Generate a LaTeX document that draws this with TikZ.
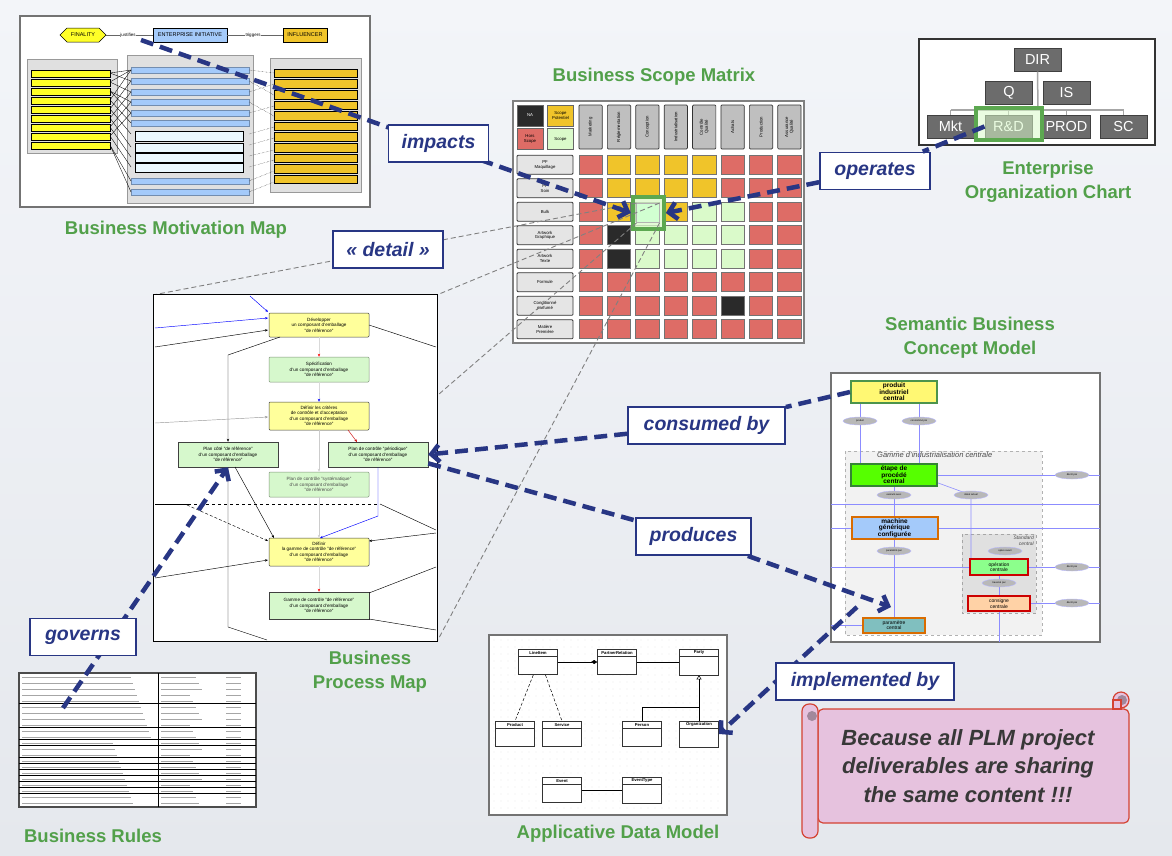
\documentclass[tikz,border=0pt]{standalone}
\usepackage{fontspec}
\setmainfont{Liberation Sans}
\usepackage{xcolor}
\usepackage{tikz}
\usetikzlibrary{arrows.meta,shapes.geometric,shapes.multipart}

\definecolor{bgtop}{RGB}{243,245,249}
\definecolor{bgbot}{RGB}{229,232,237}
\definecolor{lblgreen}{RGB}{82,160,74}
\definecolor{navy}{RGB}{40,54,132}
\definecolor{mR}{RGB}{222,108,102}
\definecolor{mO}{RGB}{240,196,42}
\definecolor{mG}{RGB}{218,250,202}
\definecolor{mB}{RGB}{42,42,42}
\definecolor{hlgreen}{RGB}{92,168,80}
\definecolor{orgfill}{RGB}{108,108,108}
\definecolor{scrollfill}{RGB}{230,194,222}
\definecolor{scrolldraw}{RGB}{212,66,50}
\definecolor{bmyellow}{RGB}{255,255,40}
\definecolor{bmblue}{RGB}{164,202,250}
\definecolor{pyellow}{RGB}{255,255,155}
\definecolor{pgreen}{RGB}{214,248,204}
\definecolor{sblue}{RGB}{140,140,255}

\begin{document}
\begin{tikzpicture}[x=1pt, y=-1pt, >={Stealth[length=3pt,width=2.4pt]},
    thumb/.style={draw=black!55, line width=2, fill=white},
    title/.style={text=lblgreen, font=\bfseries\fontsize{18.5}{24}\selectfont, align=center},
    tag/.style={draw=navy, line width=1.8, fill=white, text=navy, minimum height=37, inner sep=0,
        font=\bfseries\itshape\fontsize{19.5}{22}\selectfont},
    link/.style={draw=navy, line width=4.5, dash pattern=on 13pt off 7pt},
    tip/.style={-{Straight Barb[length=8pt,width=17pt]}},
    zoomline/.style={draw=black!50, line width=0.9, dash pattern=on 5pt off 3pt},
    tiny/.style={inner sep=0.5, font=\fontsize{4.5}{5}\selectfont},
    legend/.style={draw=black!60, line width=0.6, minimum width=26, minimum height=21, inner sep=0,
        align=center, font=\fontsize{4.3}{4.8}\selectfont},
    colhead/.style={draw=black!80, line width=0.7, fill=black!25, rounded corners=1, rotate=90,
        minimum width=44, minimum height=23.3, inner sep=0, align=center, font=\fontsize{4.3}{4.8}\selectfont},
    rowhead/.style={draw=black!80, line width=0.8, fill=black!10, rounded corners=1,
        minimum width=56, minimum height=19, inner sep=0, align=center, font=\fontsize{4.3}{4.8}\selectfont},
    orgbox/.style={draw=black!75, line width=1, fill=orgfill, text=white, minimum width=47,
        minimum height=23, inner sep=0, font=\fontsize{14.5}{15}\selectfont},
    orgline/.style={draw=black!35, line width=1.5},
    pbox/.style={draw=black!75, line width=0.5, rounded corners=1, minimum width=100, minimum height=25,
        inner sep=0.5, align=center, font=\fontsize{4.6}{5.4}\selectfont},
    sbox/.style={line width=2, minimum width=86, minimum height=22, inner sep=0, align=center,
        font=\bfseries\fontsize{6.5}{6.5}\selectfont},
    ell/.style={ellipse, draw=sblue!60, fill=black!28, minimum width=34, minimum height=8, inner sep=0,
        font=\fontsize{2.5}{2.5}\selectfont},
    sline/.style={draw=sblue, line width=0.6},
    uml/.style={rectangle split, rectangle split parts=2, rectangle split empty part height=15pt,
        draw=black!80, line width=0.6, fill=white, minimum width=39, inner sep=1.5,
        font=\bfseries\fontsize{4.2}{4.6}\selectfont},
    scroll/.style={draw=scrolldraw, line width=1.2, fill=scrollfill}]

\shade[top color=bgtop, bottom color=bgbot] (0,0) rectangle (1172,855);
\useasboundingbox (0,0) rectangle (1172,855);

% business motivation map
\draw[thumb] (20,16) rectangle (370,207);
\draw[fill=bmyellow, line width=0.5] (60,35) -- (67,28) -- (99,28) -- (106,35) -- (99,42) -- (67,42) -- cycle;
\node[font=\fontsize{5.5}{6}\selectfont, minimum width=46] (fin) at (83,35) {FINALITY};
\node[tiny] (jus) at (128,35) {justifies};
\node[draw, fill=bmblue, minimum width=74, minimum height=14, inner sep=0, font=\fontsize{5.5}{6}\selectfont] (ei) at (190,35) {ENTERPRISE INITIATIVE};
\node[tiny] (trg) at (253,35) {triggers};
\node[draw, fill=mO, minimum width=44, minimum height=14, inner sep=0, font=\fontsize{5.5}{6}\selectfont] (inf) at (305,35) {INFLUENCER};
\draw[black!60, line width=0.4] (fin.east) -- (jus) -- (ei);
\draw[black!60, line width=0.4] (ei) -- (trg) -- (inf);
\draw[draw=black!40, fill=black!12] (27,59) rectangle (117,153);
\draw[draw=black!40, fill=black!12] (127,55) rectangle (253,203);
\draw[draw=black!40, fill=black!12] (270,58) rectangle (361,192);
\foreach \y in {70,79,...,142}
    \draw[fill=bmyellow, line width=0.4] (31,\y) rectangle (110,\y+7);
\foreach \y in {67,78,89,99,110,120,178,189}
    \draw[fill=bmblue, draw=bmblue!70!black, line width=0.3] (131,\y) rectangle (249,\y+6);
\foreach \y/\h in {131/10,143/9,153/9,163/9}
    \draw[fill=cyan!8, line width=0.4] (135,\y) rectangle (243,\y+\h);
\foreach \i in {0,...,10}
    \draw[fill=mO, line width=0.4] (274,{69+10.6*\i}) rectangle (357,{77.5+10.6*\i});
\foreach \a/\b in {73/70,73/81,82/92,82/70,91/102,91/113,100/70,100/123,109/81,109/134,118/92,118/147,127/157,127/102,136/167,136/113,145/181,145/192}
    \draw[line width=0.35] (110,\a) -- (131,\b);
\foreach \a/\b in {70/73,81/95,92/84,102/116,113/106,134/127,145/138,156/150,167/160,181/171,192/182}
    \draw[densely dotted, line width=0.35] (249,\a) -- (274,\b);
\node[title] (bmmlbl) at (176,230) {Business Motivation Map};

% business scope matrix
\node[title] (bsmlbl) at (654,77) {Business Scope Matrix};
\draw[thumb, draw=black!50] (513,101) rectangle (804,343);
\node[legend, fill=mB, text=white] (na) at (530,115.5) {NA};
\node[legend, fill=mO] (sp) at (560.5,115.5) {Scope\\Potentiel};
\node[legend, fill=mR] (hs) at (530,139) {Hors\\Scope};
\node[legend, fill=mG] (sc) at (560.5,139) {Scope};
\foreach \c [count=\i from 0] in {Marketing,Réglementation,Conception,Industrialisation,{Contrôle\\Qualité},Achats,Production,{Assurance\\Qualité}}
    \node[colhead] at (590.6+28.4*\i,127) {\c};
\foreach \r [count=\j from 0] in {{PF\\Maquillage},{PF\\Soin},Bulk,{Artwork\\Graphique},{Artwork\\Texte},Formule,{Conditionné\\parfumé},{Matière\\Première}}
    \node[rowhead] at (545,164.8+23.5*\j) {\r};
\foreach \row [count=\j from 0] in {{R,O,O,O,O,R,R,R},{R,O,O,O,O,R,R,R},{R,O,G,O,G,G,R,R},{R,B,G,G,G,G,R,R},{R,B,G,G,G,G,R,R},{R,R,R,R,R,R,R,R},{R,R,R,R,R,B,R,R},{R,R,R,R,R,R,R,R}}
    \foreach \c [count=\i from 0] in \row
        \draw[draw=black!55, line width=0.7, fill=m\c] (579+28.4*\i,155.3+23.5*\j) rectangle ++(23.3,19);
\node[draw=hlgreen, line width=4, fill=mG, fill opacity=0.75, minimum width=31, minimum height=32, inner sep=0] (hl) at (648.3,213) {};
\node[draw=black!30, line width=0.5, fill=green!18!white, minimum width=22.6, minimum height=19.4, inner sep=0] (hcell) at (648,213) {};

% zoom of the cell
\node[minimum width=283, minimum height=346, inner sep=0] (bpm) at (295.5,468) {};
\draw[zoomline] (hcell.north west) -- (bpm.north west);
\draw[zoomline] (hcell.north east) -- (bpm.north east);
\draw[zoomline] (hcell.south west) -- (bpm.south west);
\draw[zoomline] (hcell.south east) -- (bpm.south east);

% business process map
\draw[line width=1.2, fill=white] (bpm.north west) rectangle (bpm.south east);
\node[pbox, fill=pyellow, minimum height=24] (pa) at (319,325) {Développer\\un composant d'emballage\\"de référence"};
\node[pbox, fill=pgreen, draw=pgreen!60!black] (pb) at (319,369.5) {Spécification\\d'un composant d'emballage\\"de référence"};
\node[pbox, fill=pyellow, minimum height=28] (pc) at (319,416) {Définir les critères\\de contrôle et d'acceptation\\d'un composant d'emballage\\"de référence"};
\node[pbox, fill=pgreen, rounded corners=0] (pd) at (228,454.5) {Plan côté "de référence"\\d'un composant d'emballage\\"de référence"};
\node[pbox, fill=pgreen, rounded corners=0] (pe) at (378,454.5) {Plan de contrôle "périodique"\\d'un composant d'emballage\\"de référence"};
\node[pbox, fill=pgreen, draw=pgreen!60!black, text=black!70] (pf) at (319,484.5) {Plan de contrôle "systématique"\\d'un composant d'emballage\\"de référence"};
\node[pbox, fill=pyellow, minimum height=28] (pg) at (319,552) {Définir\\la gamme de contrôle "de référence"\\d'un composant d'emballage\\"de référence"};
\node[pbox, fill=pgreen, minimum height=27, rounded corners=0] (ph) at (319,605.5) {Gamme de contrôle "de référence"\\d'un composant d'emballage\\"de référence"};
\draw[blue, line width=0.45, ->] (250,296) -- (268,312);
\draw[blue, line width=0.45, ->] (155,328) -- (268,318);
\draw[line width=0.45, ->] (155,347) -- (268,330);
\draw[line width=0.45, ->] (280,337) -- (228,355) -- (pd.north);
\draw[black!40, line width=0.45, ->] (155,423) -- (268,417);
\draw[black!15, line width=0.45, -{Stealth[length=3pt,width=2.4pt,red]}] (pa.south) -- (pb.north);
\draw[black!15, line width=0.45, -{Stealth[length=3pt,width=2.4pt,blue]}] (pb.south) -- (pc.north);
\draw[red!80!black, line width=0.45, ->] (348,430) -- (357,442);
\draw[black!20, line width=0.45, ->] (pc.south) -- (pf.north);
\draw[blue, line width=0.45, ->] (pe.south) -- (378,516) -- (320,538);
\draw[line width=0.45, ->] (235,467) -- (274,538);
\draw[line width=0.7] (155,504) -- (188,504);
\draw[line width=0.6, dashed] (188,504) -- (380,504);
\draw[line width=0.45] (380,504) -- (436,530);
\draw[line width=0.45, densely dashed, ->] (187,505) -- (268,541);
\draw[line width=0.45, ->] (155,578) -- (268,560);
\draw[line width=0.45, ->] (436,533) -- (369,541);
\draw[line width=0.45] (369,325) -- (436,347);
\draw[line width=0.45] (369,593) -- (436,567);
\draw[line width=0.45] (369,619) -- (436,630);
\draw[line width=0.45] (228,467) -- (228,627) -- (267,640);
\draw[black!20, line width=0.45, ->] (pf.south) -- (pg.north);
\draw[black!15, line width=0.45, -{Stealth[length=3pt,width=2.4pt,red]}] (pg.south) -- (ph.north);
\node[title] (bpmlbl) at (370,672) {Business\\Process Map};

% enterprise organization chart
\draw[line width=1.2, draw=black!80, fill=white] (919,39) rectangle (1155,145);
\coordinate (bus) at (1038,110);
\node[orgbox] (dir) at (1037.5,59.5) {DIR};
\node[orgbox] (q) at (1009,92.5) {Q};
\node[orgbox] (is) at (1066.5,92.5) {IS};
\node[orgbox] (mkt) at (950.5,126.5) {Mkt};
\node[orgbox] (rd) at (1008.5,126.5) {R\&D};
\node[orgbox] (prod) at (1066.5,126.5) {PROD};
\node[orgbox] (sc) at (1123.5,126.5) {SC};
\draw[orgline] (dir.south) -- (bus);
\draw[orgline] (mkt.north |- bus) -- (sc.north |- bus);
\foreach \n in {mkt,rd,prod,sc}
    \draw[orgline] (\n.north |- bus) -- (\n.north);
\node[draw=hlgreen, line width=4, fill=mG, fill opacity=0.55, minimum width=66, minimum height=32, inner sep=0] (rdhl) at (1009,124) {};
\node[title] (eoclbl) at (1048,182) {Enterprise\\Organization Chart};

% semantic business concept model
\node[title] (sbclbl) at (970,338) {Semantic Business\\Concept Model};
\draw[thumb] (831,373) rectangle (1100,642);
\draw[draw=black!30, dashed, fill=black!5] (845,451) rectangle (1042,635);
\node[anchor=west, inner sep=0, font=\itshape\fontsize{7.5}{8}\selectfont, text=black!70] (gam) at (877,455) {Gamme d'industrialisation centrale};
\draw[draw=black!35, dashed, fill=black!12] (962,534) rectangle (1036,613);
\node[anchor=north east, inner sep=1, align=right, font=\itshape\fontsize{5}{5.5}\selectfont, text=black!70] (std) at (1035,535) {Standard\\central};
\draw[sline] (831,504) -- (1100,504);
\draw[sline] (831,528) -- (1100,528);
\draw[sline] (831,567) -- (1100,567);
\draw[sline] (1030,603) -- (1100,603);
\draw[sline] (937,475) -- (1100,475);
\draw[sline] (831,625) -- (863,625);
\draw[sline] (860,403) -- (860,464);
\draw[sline] (919,403) -- (919,464);
\draw[sline] (894,486) -- (894,517);
\draw[sline] (930,480) -- (971,495) -- (971,559);
\draw[sline] (894,539) -- (894,617);
\draw[sline] (999,575) -- (999,596);
\draw[sline] (999,611) -- (999,642);
\node[sbox, draw=green!40!black!70, fill=yellow!55] (pic) at (894,392) {produit\\industriel\\central};
\node[sbox, draw=green!40!black!80, fill=green!55!lime] (epc) at (894,475) {étape de\\procédé\\central};
\node[sbox, draw=orange!85!black, fill=bmblue] (mgc) at (894.5,528) {machine\\générique\\configurée};
\node[sbox, draw=red!80!black, fill=green!45!white, minimum width=58, minimum height=16, font=\fontsize{5}{5.5}\selectfont] (opc) at (999,567) {opération\\centrale};
\node[sbox, draw=red!80!black, fill=orange!35!white, minimum width=62, minimum height=15, font=\fontsize{5}{5.5}\selectfont] (csc) at (999,603.5) {consigne\\centrale};
\node[sbox, draw=orange!85!black, fill=teal!50!white, minimum width=62, minimum height=15, font=\fontsize{5}{5.5}\selectfont] (pmc) at (894,625) {paramètre\\central};
\node[ell] (e1) at (860,421) {produit};
\node[ell] (e2) at (919,421) {consommé par};
\node[ell] (e3) at (894,495) {exécuté avec};
\node[ell] (e4) at (971,495) {statut actuel};
\node[ell] (e5) at (1072,475) {décrit par};
\node[ell] (e6) at (894,551) {paramétré par};
\node[ell] (e7) at (1005,551) {opère avant};
\node[ell] (e8) at (999,583) {traversé par};
\node[ell] (e9) at (1072,567) {décrit par};
\node[ell] (e10) at (1072,603) {décrit par};

% applicative data model
\draw[thumb] (489,635) rectangle (727,815);
\foreach \x in {494,501,...,722}
    \foreach \y in {640,647,...,810}
        \fill[black!22] (\x,\y) circle (0.45);
\node[uml] (li) at (538,662) {LineItem\nodepart{two}};
\node[uml] (prt) at (617,662) {PartnerRelation\nodepart{two}};
\node[uml] (party) at (699,662) {Party\nodepart{two}};
\node[uml] (prod) at (515,734) {Product\nodepart{two}};
\node[uml] (serv) at (562,734) {Service\nodepart{two}};
\node[uml] (pers) at (642,734) {Person\nodepart{two}};
\node[uml] (org) at (699,734) {Organization\nodepart{two}};
\node[uml] (ev) at (562,790) {Event\nodepart{two}};
\node[uml] (evt) at (642,790) {EventType\nodepart{two}};
\draw[line width=0.5, -{Diamond[length=6pt,width=4pt]}] (li.east) -- (prt.west);
\draw[line width=0.5] (prt.east) -- (party.west);
\draw[line width=0.5, densely dashed] (li.-110) -- (prod.north);
\draw[line width=0.5, densely dashed] (li.-60) -- (serv.north);
\draw[line width=0.5, -{Triangle[open,length=4pt,width=5pt]}] (org.north) -- (party.south);
\draw[line width=0.5] (pers.north) |- (party.south |- 0,707);
\draw[line width=0.5] (ev.east) -- (evt.west);
\node[title] (admlbl) at (618,834) {Applicative Data Model};

% business rules
\draw[thumb, draw=black!70] (19,673) rectangle (256,807);
\draw[line width=0.7] (158,673) -- (158,807);
\foreach \y in {703,727,739,745,757,763,769,775,781,787,793}
    \draw[line width=0.5] (19,\y) -- (256,\y);
\foreach \y in {677,683,...,803} {
    \draw[black!35, line width=0.9] (22,\y) -- ({112+mod(\y*7,40)},\y);
    \draw[black!35, line width=0.9] (161,\y) -- ({190+mod(\y*3,15)},\y);
    \draw[black!35, line width=0.9] (226,\y) -- (241,\y);
}
\node[title] (brlbl) at (93,836) {Business Rules};

% scroll
\draw[scroll, rounded corners=5] (818,709) rectangle (1129,823);
\draw[scroll] (1121,700) circle (8);
\fill[black!30!scrollfill] (1122,700) circle (5);
\draw[scroll] (1113,700) rectangle (1121,709);
\draw[scroll, rounded corners=7] (802,704) rectangle (818,838);
\fill[black!30!scrollfill] (812,716) circle (5);
\node[text=black!78, font=\bfseries\itshape\fontsize{22}{28.5}\selectfont, align=center] (msg) at (968,766) {Because all PLM project\\deliverables are sharing\\the same content !!!};

% links
\coordinate (mmsrc) at (141,40);
\draw[link, tip] (mmsrc) -- (hl.west);
\node[tag, minimum width=100] (impacts) at (438.5,143.5) {impacts};
\node[tag, minimum width=110] (operates) at (875,171) {operates};
\draw[link] (rd.west) -- (operates);
\draw[link, tip] (operates) -- (hl.east);
\node[tag, minimum width=110] (detail) at (388,249.5) {« detail »};
\node[tag, minimum width=157] (consumed) at (706.5,425.5) {consumed by};
\draw[link] (pic.west) -- (consumed);
\draw[link, tip] (consumed) -- (pe.east);
\node[tag, minimum width=115] (produces) at (693.5,536.5) {produces};
\coordinate (prodtip) at (891,607);
\draw[link] (pe.-10) -- (produces);
\draw[link, tip] (produces) -- (prodtip);
\coordinate (brsrc) at (63,708);
\draw[link, tip] (brsrc) -- (pd.south);
\node[tag, minimum width=106] (governs) at (83,637) {governs};
\coordinate (implsrc) at (857,607);
\draw[link, tip] (implsrc) -- (org.east);
\node[tag, minimum width=178] (implemented) at (865,681.5) {implemented by};
\end{tikzpicture}
\end{document}
